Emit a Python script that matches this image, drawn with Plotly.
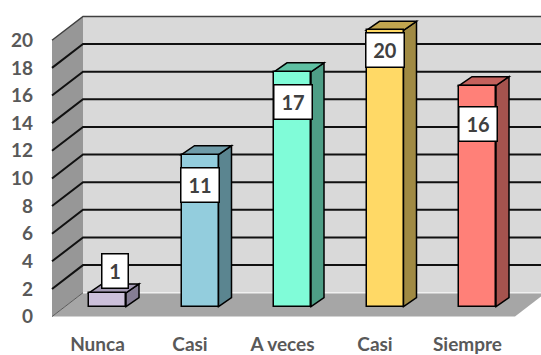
import plotly.graph_objects as go

# ---------------- data ----------------
categories = ["Nunca", "Casi", "A veces", "Casi", "Siempre"]
values = [1, 11, 17, 20, 16]
y_ticks = list(range(0, 21, 2))

# ---------------- styles ----------------
front_colors = ["#ccc0da", "#93cddd", "#80fcd8", "#ffd966", "#ff8078"]
top_colors = ["#a399b3", "#6e9ba8", "#5ec0a2", "#c2a64f", "#c4615c"]
side_colors = ["#857d94", "#5b8590", "#4e9e86", "#a08a43", "#a5534e"]
label_dy = [1.55, -2.22, -2.18, -1.40, -2.80]   # label centre relative to bar top (value units)
label_dx_px = [7, 0, 0, 0, 0]
FONT = "Lato"
TXT = "#595959"

W, H = 541, 355
ML, MB = 38, 22
X0, XS = 97.5, 92.5     # pixel of category 0 on front plane, pixels per category
Y0, YS = 318.5, 13.9    # pixel of value 0 on front plane, pixels per unit


def px2x(p):
    return (p - X0) / XS


def px2y(p):
    return (Y0 - p) / YS


x_range = [px2x(ML), px2x(W)]
y_range = [px2y(H - MB), px2y(0)]

DX, DY = 31 / XS, 24 / YS            # wall depth
WL = px2x(52)                         # left wall front x
FR = px2x(515)                        # floor front right x
YMAX = max(y_ticks)
SHIFT = 10 / XS                       # bars sit inside the depth
BASE = 10 / YS
BW = 37 / XS
SDX, SDY = 13 / XS, 9 / YS            # bar depth


def path(pts, close=True):
    s = "M " + " L ".join(f"{x},{y}" for x, y in pts)
    return s + (" Z" if close else "")


shapes = []
# left wall
shapes.append(dict(type="path", xref="x", yref="y", layer="below",
                   path=path([(WL, 0), (WL, YMAX), (WL + DX, YMAX + DY), (WL + DX, DY)]),
                   fillcolor="#979797", line=dict(width=0)))
# back wall
shapes.append(dict(type="rect", xref="x", yref="y", layer="below",
                   x0=WL + DX, x1=FR + DX, y0=DY, y1=YMAX + DY,
                   fillcolor="#d9d9d9", line=dict(width=0)))
# floor
shapes.append(dict(type="path", xref="x", yref="y", layer="below",
                   path=path([(WL, 0), (FR, 0), (FR + DX, DY), (WL + DX, DY)]),
                   fillcolor="#a6a6a6", line=dict(width=0)))
# gridlines
for v in y_ticks:
    if v == 0:
        shapes.append(dict(type="path", xref="x", yref="y", layer="below",
                           path=path([(WL + DX, DY), (FR + DX, DY)], close=False),
                           line=dict(color="#f0f0f0", width=1.5)))
        shapes.append(dict(type="path", xref="x", yref="y", layer="below",
                           path=path([(WL, 0), (WL + DX, DY)], close=False),
                           line=dict(color="#5a5a5a", width=1)))
    elif v == YMAX:
        shapes.append(dict(type="path", xref="x", yref="y", layer="below",
                           path=path([(WL, v), (WL + DX, v + DY), (FR + DX, v + DY)], close=False),
                           line=dict(color="#404040", width=1.5)))
    else:
        shapes.append(dict(type="path", xref="x", yref="y", layer="below",
                           path=path([(WL, v), (WL + DX, v + DY), (FR + DX, v + DY)], close=False),
                           line=dict(color="#111111", width=2)))

# bar side and top faces
for i, v in enumerate(values):
    xl = i + SHIFT - BW / 2
    xr = i + SHIFT + BW / 2
    b = BASE
    t = BASE + v
    shapes.append(dict(type="path", xref="x", yref="y", layer="below",
                       path=path([(xr, b), (xr + SDX, b + SDY), (xr + SDX, t + SDY), (xr, t)]),
                       fillcolor=side_colors[i], line=dict(color="black", width=1.5)))
    shapes.append(dict(type="path", xref="x", yref="y", layer="below",
                       path=path([(xl, t), (xl + SDX, t + SDY), (xr + SDX, t + SDY), (xr, t)]),
                       fillcolor=top_colors[i], line=dict(color="black", width=1.5)))

fig = go.Figure()
fig.add_trace(go.Bar(
    x=[i + SHIFT for i in range(len(values))],
    y=values,
    base=BASE,
    width=BW,
    marker=dict(color=front_colors, line=dict(color="black", width=1.5)),
    hoverinfo="skip",
    showlegend=False,
))

annotations = []
for i, v in enumerate(values):
    txt = str(v)
    annotations.append(dict(
        x=i + SHIFT, y=BASE + v + label_dy[i], xref="x", yref="y",
        xshift=label_dx_px[i],
        text=txt, showarrow=False,
        bgcolor="white", bordercolor="black", borderwidth=1.5, borderpad=1,
        width=12 * len(txt) + 11, height=31,
        font=dict(family=FONT, size=20, color="#404040", weight="bold"),
    ))

fig.update_layout(
    width=W, height=H,
    margin=dict(l=ML, r=0, t=0, b=MB, pad=0),
    paper_bgcolor="white", plot_bgcolor="white",
    shapes=shapes, annotations=annotations,
    bargap=0,
    xaxis=dict(range=x_range, tickvals=list(range(len(categories))), ticktext=categories,
               showgrid=False, zeroline=False, showline=False, ticks="",
               tickfont=dict(family=FONT, size=19, color=TXT, weight="bold")),
    yaxis=dict(range=y_range, tickvals=y_ticks, ticktext=[str(t) for t in y_ticks],
               showgrid=False, zeroline=False, showline=False, ticks="",
               ticklabelstandoff=4,
               tickfont=dict(family=FONT, size=19, color=TXT, weight="bold")),
)

fig.write_html("out.html")
